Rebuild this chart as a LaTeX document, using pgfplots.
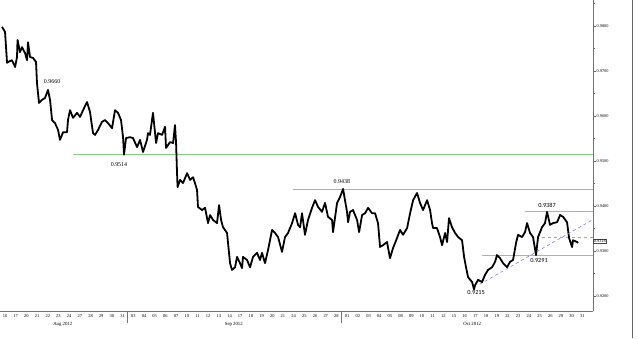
\documentclass[border=0pt]{standalone}
\usepackage{pgfplots}
\pgfplotsset{compat=1.18}
\usepackage{fontspec}
\setmainfont{Liberation Serif}
\newfontfamily\carl{Carlito}
\definecolor{lvl}{RGB}{135,205,135}
\definecolor{trend}{RGB}{130,130,200}
\begin{document}
\begin{tikzpicture}[x=1bp,y=1bp]
\useasboundingbox (0,-27) rectangle (640,311);
\begin{axis}[at={(0,0)}, anchor=south west, scale only axis,
  width=593bp, height=311bp,
  xmin=-0.47, xmax=55, ymin=0.91667, ymax=0.98578,
  axis x line=bottom, axis y line=right,
  axis line style={-, black!55, line width=0.5pt},
  xtick={0,...,54},
  xticklabels={16,17,20,21,22,23,24,27,28,29,30,31,03,04,05,06,07,10,11,12,13,14,17,18,19,20,21,24,25,26,27,28,01,02,03,04,05,08,09,10,11,12,15,16,17,18,19,22,23,24,25,26,29,30,31},
  xtick style={draw=none},
  xticklabel style={font=\fontsize{4.5}{5}\selectfont, inner sep=1bp},
  ytick={0.92,0.93,0.94,0.95,0.96,0.97,0.98},
  minor ytick={0.925,0.935,0.945,0.955,0.965,0.975,0.985},
  scaled y ticks=false,
  yticklabel style={font=\fontsize{4.3}{5}\selectfont, inner sep=1bp,
    /pgf/number format/.cd, fixed, fixed zerofill, precision=4},
  /pgf/number format/assume math mode=true,
  ytick style={black!60},
  tick align=outside, major tick length=2.5bp, minor tick length=1.5bp,
  clip=false,
]
% levels
\addplot[lvl, line width=0.75pt] coordinates {(6.36,0.9514) (55,0.9514)};
\addplot[lvl, line width=0.75pt] coordinates {(26.94,0.9438) (55,0.9438)};
\addplot[lvl, line width=0.75pt] coordinates {(48.64,0.9387) (55,0.9387)};
\addplot[lvl, line width=0.75pt] coordinates {(44.62,0.9291) (55,0.9291)};
\addplot[black!35, dashed, line width=0.5pt] coordinates {(50.2,0.9330) (55,0.9330)};
% price
\addplot[black, line width=1.8pt, line join=round] table {
d p
-0.28 0.9798
0.00 0.9787
0.19 0.9718
0.28 0.9720
0.65 0.9724
0.94 0.9709
1.12 0.9731
1.17 0.9769
1.40 0.9742
1.59 0.9753
1.87 0.9740
2.06 0.9724
2.15 0.9764
2.34 0.9731
2.62 0.9729
2.90 0.9720
2.99 0.9673
3.18 0.9629
3.46 0.9636
3.74 0.9640
4.02 0.9658
4.21 0.9636
4.40 0.9591
4.68 0.9584
4.96 0.9569
5.14 0.9547
5.43 0.9564
5.80 0.9564
5.89 0.9591
6.08 0.9613
6.36 0.9596
6.74 0.9607
7.02 0.9598
7.30 0.9613
7.67 0.9631
7.95 0.9609
8.23 0.9562
8.42 0.9558
8.70 0.9569
9.07 0.9587
9.35 0.9591
9.64 0.9584
10.01 0.9573
10.29 0.9613
10.57 0.9607
10.85 0.9591
11.04 0.9553
11.13 0.9514
11.32 0.9551
11.69 0.9553
11.97 0.9551
12.35 0.9531
12.63 0.9547
12.91 0.9520
13.28 0.9547
13.38 0.9562
13.56 0.9558
13.84 0.9607
14.13 0.9540
14.31 0.9562
14.69 0.9558
14.97 0.9576
15.06 0.9529
15.43 0.9542
15.72 0.9540
15.90 0.9580
16.00 0.9540
16.09 0.9473
16.14 0.9442
16.37 0.9458
16.65 0.9451
17.03 0.9473
17.31 0.9458
17.59 0.9464
17.96 0.9436
18.05 0.9398
18.43 0.9391
18.71 0.9396
18.99 0.9362
19.18 0.9380
19.46 0.9369
19.83 0.9362
20.02 0.9402
20.21 0.9369
20.39 0.9353
20.77 0.9340
20.86 0.9318
21.05 0.9273
21.23 0.9258
21.52 0.9264
21.70 0.9287
21.98 0.9273
22.17 0.9262
22.26 0.9287
22.64 0.9280
22.92 0.9264
23.20 0.9287
23.57 0.9296
23.85 0.9280
24.04 0.9296
24.32 0.9273
24.60 0.9302
24.98 0.9347
25.26 0.9340
25.54 0.9331
25.91 0.9298
26.19 0.9331
26.47 0.9340
26.85 0.9362
27.13 0.9384
27.41 0.9358
27.60 0.9353
27.78 0.9384
28.06 0.9336
28.34 0.9369
28.72 0.9396
29.00 0.9413
29.28 0.9398
29.65 0.9387
29.93 0.9407
30.21 0.9376
30.59 0.9369
30.68 0.9342
31.06 0.9407
31.34 0.9420
31.62 0.9438
31.80 0.9413
31.99 0.9387
32.09 0.9364
32.27 0.9387
32.55 0.9391
32.93 0.9369
33.12 0.9342
33.40 0.9380
33.68 0.9384
33.96 0.9396
34.33 0.9384
34.61 0.9384
34.89 0.9362
35.08 0.9309
35.36 0.9313
35.73 0.9320
36.01 0.9284
36.30 0.9307
36.67 0.9329
36.95 0.9347
37.23 0.9336
37.61 0.9351
37.89 0.9384
38.17 0.9413
38.54 0.9429
38.82 0.9407
39.10 0.9391
39.48 0.9413
39.76 0.9391
39.94 0.9362
40.04 0.9351
40.41 0.9351
40.69 0.9331
40.88 0.9313
41.16 0.9340
41.35 0.9320
41.53 0.9373
41.81 0.9353
42.10 0.9340
42.38 0.9331
42.75 0.9324
42.94 0.9287
43.12 0.9264
43.31 0.9242
43.69 0.9231
43.87 0.9215
43.97 0.9224
44.25 0.9236
44.62 0.9231
44.90 0.9247
45.18 0.9258
45.56 0.9264
45.84 0.9276
46.02 0.9291
46.30 0.9284
46.59 0.9273
46.96 0.9264
47.24 0.9276
47.52 0.9280
47.80 0.9318
47.99 0.9336
48.36 0.9331
48.64 0.9342
48.83 0.9362
49.11 0.9340
49.39 0.9331
49.67 0.9291
49.86 0.9331
50.23 0.9353
50.51 0.9362
50.70 0.9387
50.98 0.9358
51.26 0.9362
51.64 0.9364
51.92 0.9380
52.20 0.9376
52.57 0.9364
52.76 0.9329
53.04 0.9309
53.13 0.9324
53.51 0.9320
53.60 0.9318
};
\addplot[trend, dashed, line width=0.6pt] coordinates {(44.4,0.9226) (55,0.9370)};
% annotations
\node[font=\fontsize{6}{7}\selectfont] at (axis cs:4.4,0.9676) {0.9660};
\node[font=\fontsize{6}{7}\selectfont] at (axis cs:10.66,0.9493) {0.9514};
\node[font=\fontsize{6}{7}\selectfont] at (axis cs:31.5,0.9455) {0.9438};
\node[font=\carl\fontsize{6.3}{7}\selectfont] at (axis cs:50.7,0.9402) {0.9387};
\node[font=\carl\fontsize{6.3}{7}\selectfont] at (axis cs:49.95,0.9280) {0.9291};
\node[font=\carl\fontsize{6.3}{7}\selectfont] at (axis cs:44.06,0.9207) {0.9215};
\node[draw=black!70, anchor=west, inner sep=0.7bp, fill=white, font=\fontsize{4.3}{5}\selectfont] at (axis cs:55,0.9322) {0.9318};
% month separator anchors and labels
\coordinate (s1) at (axis cs:11.45,0.91667);
\coordinate (s2) at (axis cs:31.45,0.91667);
\node[anchor=north, font=\fontsize{4.8}{5}\selectfont, yshift=-8bp] at (axis cs:5.4,0.91667) {Aug 2012};
\node[anchor=north, font=\fontsize{4.8}{5}\selectfont, yshift=-8bp] at (axis cs:21.4,0.91667) {Sep 2012};
\node[anchor=north, font=\fontsize{4.8}{5}\selectfont, yshift=-8bp] at (axis cs:43.7,0.91667) {Oct 2012};
\end{axis}
\draw[black!55, line width=0.5pt] (s1) -- ([yshift=-12bp]s1);
\draw[black!55, line width=0.5pt] (s2) -- ([yshift=-12bp]s2);
\draw[black!60, line width=0.5pt] (632,-27) -- (632,311);
\end{tikzpicture}
\end{document}
